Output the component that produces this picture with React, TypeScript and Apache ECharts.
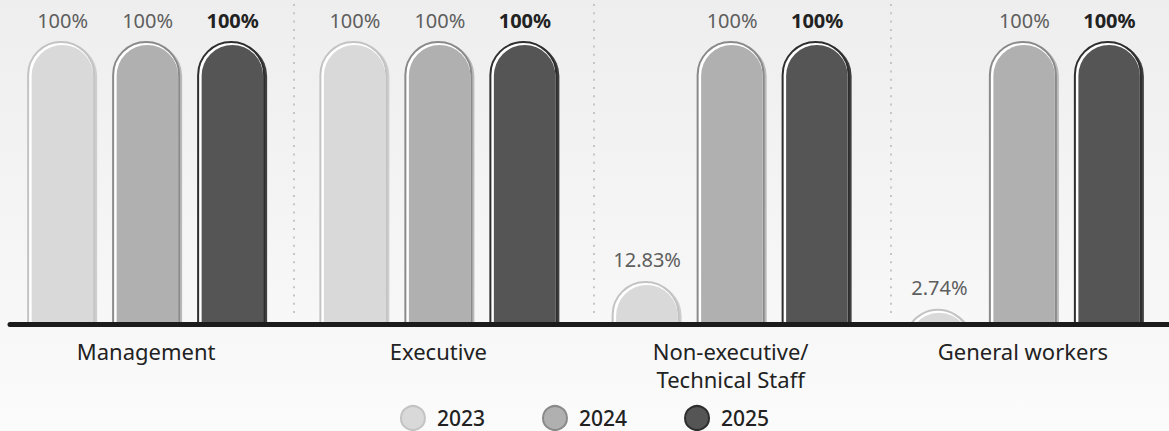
import React, { useEffect, useRef } from "react";
import * as echarts from "echarts";

const categories = ["Management", "Executive", "Non-executive/\nTechnical Staff", "General workers"];
const years = ["2023", "2024", "2025"];
const values2023 = [100, 100, 12.83, 2.74];
const values2024 = [100, 100, 100, 100];
const values2025 = [100, 100, 100, 100];

const Y_MIN = -2.43;
const Y_MAX = 100;
const BAR_W = 66;
const BAR_STEP = 85;
const FONT = "'Noto Sans', 'Open Sans', sans-serif";

const palette = [
  { fill: "#d9d9d9", border: "#c3c3c3", shadow: "#cecece", label: "#5e5e5e", weight: "normal" },
  { fill: "#b0b0b0", border: "#8a8a8a", shadow: "#bababa", label: "#5e5e5e", weight: "normal" },
  { fill: "#555555", border: "#2e2e2e", shadow: "#404040", label: "#222222", weight: "bold" },
];

function pill(x: number, w: number, top: number, base: number): string {
  const r = w / 2;
  const h = base - top;
  const cx = x + r;
  if (h <= 0) return `M${x},${base}Z`;
  if (h >= r) {
    return `M${x},${base}L${x},${top + r}A${r},${r},0,0,1,${x + w},${top + r}L${x + w},${base}Z`;
  }
  const c = Math.sqrt(r * r - (r - h) * (r - h));
  return `M${cx - c},${base}A${r},${r},0,0,1,${cx + c},${base}Z`;
}

function makeSeries(name: string, values: number[], idx: number) {
  const col = palette[idx];
  const offset = (idx - 1) * BAR_STEP;
  return {
    type: "custom",
    name,
    data: values.map((v, i) => [i, v]),
    encode: { x: 0, y: 1 },
    itemStyle: { color: col.fill, borderColor: col.border, borderWidth: 2 },
    renderItem: (params: any, api: any) => {
      const cat = api.value(0);
      const val = api.value(1);
      const p = api.coord([cat, val]);
      const b = api.coord([cat, Y_MIN]);
      const cx = p[0] + offset;
      const top = p[1];
      const base = b[1];
      const x = cx - BAR_W / 2;
      return {
        type: "group",
        children: [
          {
            type: "path",
            shape: { pathData: pill(x + 3, BAR_W, top + 1, base) },
            style: { fill: col.shadow },
          },
          {
            type: "path",
            shape: { pathData: pill(x, BAR_W, top, base) },
            style: { fill: "#ffffff", stroke: col.border, lineWidth: 2 },
          },
          {
            type: "path",
            shape: { pathData: pill(x + 3.5, BAR_W - 4.5, top + 3, base) },
            style: { fill: col.fill },
          },
          {
            type: "text",
            x: cx + 1.5,
            y: top - 22,
            style: {
              text: `${val}%`,
              fill: col.label,
              fontSize: 20,
              fontWeight: col.weight,
              fontFamily: FONT,
              align: "center",
              verticalAlign: "middle",
            },
          },
        ],
      };
    },
  };
}

const separatorX = [294, 594, 891];

export default function App() {
  const ref = useRef<HTMLDivElement>(null);
  useEffect(() => {
    if (!ref.current) return;
    const chart = echarts.init(ref.current, undefined, { renderer: "svg" });
    const series = [values2023, values2024, values2025].map((vals, i) => makeSeries(years[i], vals, i));
    chart.setOption({
      animation: false,
      backgroundColor: new echarts.graphic.LinearGradient(0, 0, 0, 1, [
        { offset: 0, color: "#eeeeee" },
        { offset: 1, color: "#fbfbfb" },
      ]),
      grid: { left: 0, width: 1180, top: 42, bottom: 107 },
      xAxis: {
        type: "category",
        data: categories,
        axisLine: { show: false },
        axisTick: { show: false },
        splitLine: { show: false },
        axisLabel: {
          interval: 0,
          fontSize: 22,
          fontFamily: FONT,
          color: "#222222",
          lineHeight: 28,
          margin: 13,
        },
      },
      yAxis: {
        type: "value",
        min: Y_MIN,
        max: Y_MAX,
        show: false,
      },
      legend: {
        data: years.map((y, i) => ({
          name: y,
          icon: "circle",
          itemStyle: { color: palette[i].fill, borderColor: palette[i].border, borderWidth: 2 },
        })),
        left: "center",
        top: 405,
        padding: 0,
        itemWidth: 24,
        itemHeight: 24,
        itemGap: 57,
        textStyle: {
          fontSize: 21,
          lineHeight: 24,
          fontFamily: FONT,
          fontWeight: 500,
          color: "#222222",
          padding: [0, 0, 0, 7],
        },
      },
      graphic: [
        ...separatorX.map((sx) => ({
          type: "line",
          z: 1,
          shape: { x1: sx, y1: 4, x2: sx, y2: 314 },
          style: { stroke: "#c6c6c6", lineWidth: 2, lineDash: [2, 6.3] },
        })),
        {
          type: "line",
          z: 100,
          shape: { x1: 10, y1: 324.5, x2: 1175, y2: 324.5 },
          style: { stroke: "#1c1c1c", lineWidth: 5, lineCap: "round" },
        },
      ],
      series,
    });
    return () => chart.dispose();
  }, []);
  return (
    <div
      ref={ref}
      style={{ position: "fixed", left: 0, top: 0, width: 1169, height: 431 }}
    />
  );
}
